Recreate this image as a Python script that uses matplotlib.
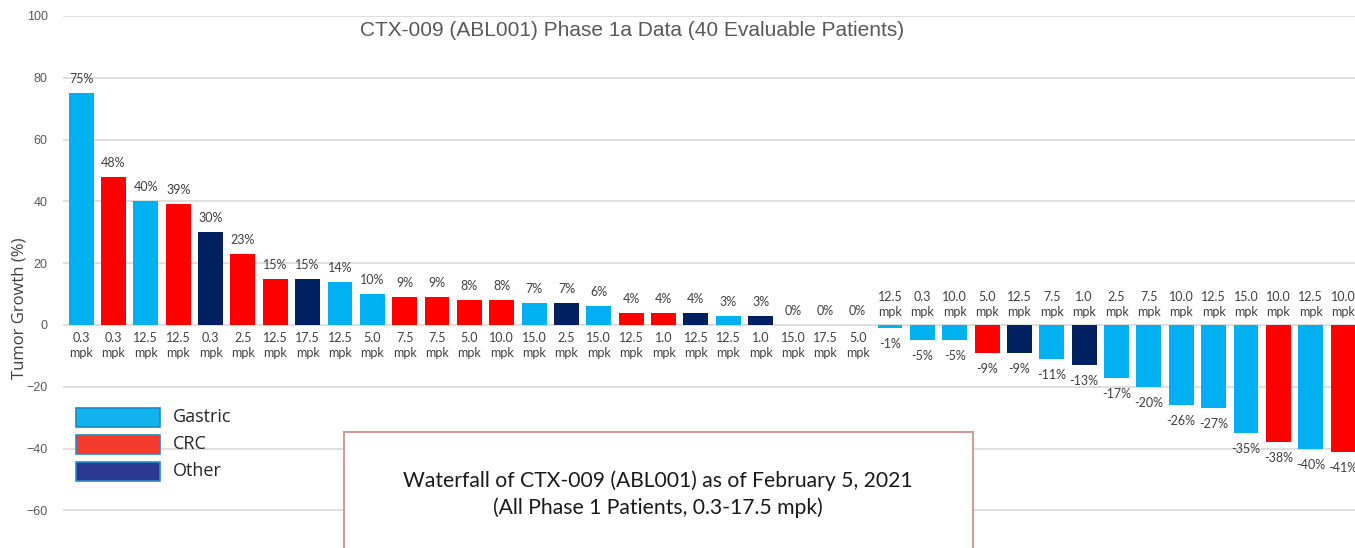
import matplotlib
matplotlib.use("Agg")
import matplotlib.pyplot as plt
from matplotlib.patches import Rectangle

# Data
doses = ["0.3", "0.3", "12.5", "12.5", "0.3", "2.5", "12.5", "17.5", "12.5", "5.0",
         "7.5", "7.5", "5.0", "10.0", "15.0", "2.5", "15.0", "12.5", "1.0", "12.5",
         "12.5", "1.0", "15.0", "17.5", "5.0", "12.5", "0.3", "10.0", "5.0", "12.5",
         "7.5", "1.0", "2.5", "7.5", "10.0", "12.5", "15.0", "10.0", "12.5", "10.0"]
growth = [75, 48, 40, 39, 30, 23, 15, 15, 14, 10,
          9, 9, 8, 8, 7, 7, 6, 4, 4, 4,
          3, 3, 0, 0, 0, -1, -5, -5, -9, -9,
          -11, -13, -17, -20, -26, -27, -35, -38, -40, -41]
tumor = ["Gastric", "CRC", "Gastric", "CRC", "Other", "CRC", "CRC", "Other", "Gastric", "Gastric",
         "CRC", "CRC", "CRC", "CRC", "Gastric", "Other", "Gastric", "CRC", "CRC", "Other",
         "Gastric", "Other", "Gastric", "Gastric", "Gastric", "Gastric", "Gastric", "Gastric", "CRC", "Other",
         "Gastric", "Other", "Gastric", "Gastric", "Gastric", "Gastric", "Gastric", "CRC", "Gastric", "CRC"]

colors = {"Gastric": "#00B0F0", "CRC": "#FF0000", "Other": "#002060"}
legend_colors = {"Gastric": ("#12B2EE", "#1E88C8"),
                 "CRC": ("#F53B2E", "#2E8ACB"),
                 "Other": ("#2B3990", "#2E8ACB")}

W, H = 1355, 548
fig = plt.figure(figsize=(W / 100, H / 100), dpi=100)
ax = fig.add_axes([63 / W, 1 - 541.3 / H, 1 - 63 / W, (541.3 - 16) / H])

x = list(range(len(growth)))
ax.bar(x, growth, width=0.77, color=[colors[t] for t in tumor], zorder=2)

ax.set_xlim(-0.56, 39.37)
ax.set_ylim(-70, 100)
ax.set_yticks(range(-60, 101, 20))
ax.tick_params(axis="y", length=0, pad=11, labelsize=9, labelcolor="#595959")
ax.set_xticks([])
ax.yaxis.grid(True, color="#D9D9D9", linewidth=1.2, zorder=0)
for s in ax.spines.values():
    s.set_visible(False)
for lab in ax.get_yticklabels():
    lab.set_family("Liberation Sans")

ax.set_ylabel("Tumor Growth (%)", fontsize=12, color="#404040", family="Open Sans")
ax.yaxis.set_label_coords(-35 / (W - 63), 1 - (308 - 16) / (541.3 - 16))

lab_kw = dict(fontsize=9, color="#404040", family="Lato", ha="center",
              textcoords="offset pixels", linespacing=1.3)
for xi, v, d in zip(x, growth, doses):
    if v >= 0:
        ax.annotate(f"{v}%", (xi, v), xytext=(0, 14), va="center", **lab_kw)
        ax.annotate(f"{d}\nmpk", (xi, 0), xytext=(0, -7), va="top", **lab_kw)
    else:
        ax.annotate(f"{v}%", (xi, v), xytext=(0, -16), va="center", **lab_kw)
        ax.annotate(f"{d}\nmpk", (xi, 0), xytext=(0, 7), va="bottom", **lab_kw)

fig.text(632 / W, 1 - 30 / H, "CTX-009 (ABL001) Phase 1a Data (40 Evaluable Patients)",
         ha="center", va="center", fontsize=15, color="#595959", family="Liberation Sans")

# Legend
for i, name in enumerate(["Gastric", "CRC", "Other"]):
    top = 408 + i * 27
    face, edge = legend_colors[name]
    fig.add_artist(Rectangle((76 / W, 1 - (top + 19) / H), 84 / W, 19 / H,
                             transform=fig.transFigure, facecolor=face,
                             edgecolor=edge, linewidth=1.2, zorder=5))
    fig.text(173 / W, 1 - (top + 9) / H, name, ha="left", va="center",
             fontsize=13, color="#262626", family="Open Sans", zorder=5)

# Annotation box
fig.add_artist(Rectangle((344 / W, 1 - 560 / H), 629 / W, 128 / H,
                         transform=fig.transFigure, facecolor="white",
                         edgecolor="#D79A9A", linewidth=1.5, zorder=5))
fig.text(658 / W, 1 - 481 / H, "Waterfall of CTX-009 (ABL001) as of February 5, 2021",
         ha="center", va="center", fontsize=15.2, color="#1A1A1A", family="Lato", zorder=6)
fig.text(658 / W, 1 - 508 / H, "(All Phase 1 Patients, 0.3-17.5 mpk)",
         ha="center", va="center", fontsize=15.2, color="#1A1A1A", family="Lato", zorder=6)

fig.savefig("out.png", dpi=100)
